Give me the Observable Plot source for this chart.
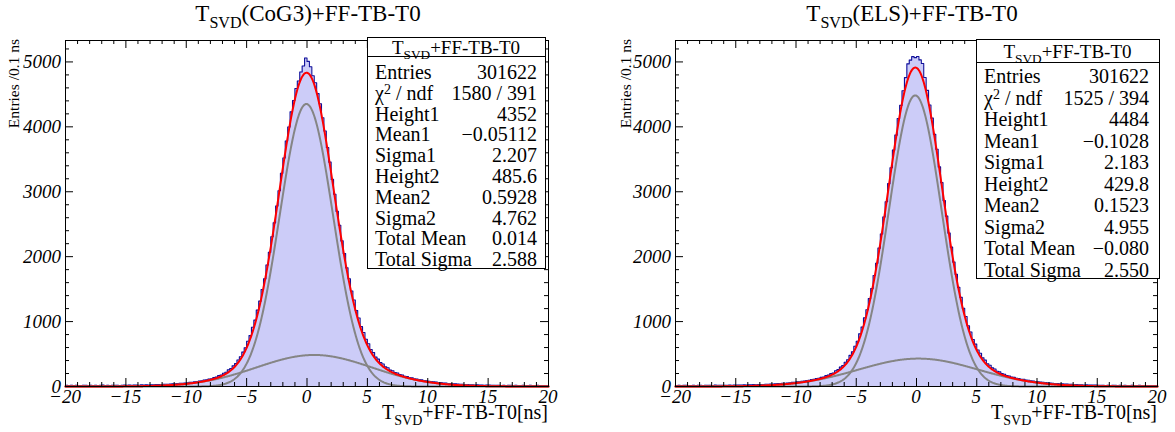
<!DOCTYPE html>
<html><head><meta charset="utf-8">
<script src="https://cdn.jsdelivr.net/npm/d3@7"></script>
<script src="https://cdn.jsdelivr.net/npm/@observablehq/plot@0.6"></script>
<style>
body{margin:0;background:#fff;}
#wrap{position:relative;width:1175px;height:432px;overflow:hidden;}
#wrap svg{position:absolute;top:0;}
</style></head><body><div id="wrap"></div>
<script>
// ---------------- data ----------------
const binStart = -20, binWidth = 0.2;   // bins of the histogram (ns)
const countsCoG3 = [
17,14,19,15,18,16,13,20,17,15,18,16,19,14,17,21,16,18,15,19,17,20,16,18,21,
19,22,18,23,21,20,25,22,26,24,
27,25,29,31,28,33,35,34,39,41,
42,44,49,50,55,57,63,66,72,76,
85,88,101,103,116,120,136,145,168,176,
205,219,256,277,318,352,409,458,530,596,
698,784,912,1022,1176,1315,1494,1661,1872,2068,
2306,2521,2781,3015,3285,3519,3782,3998,4231,4404,
4590,4706,4845,4938,5060,5008,4925,4786,4679,4512,
4356,4139,3935,3681,3456,3190,2961,2698,2484,2243,
2047,1828,1659,1471,1332,1169,1055,922,831,727,
659,571,522,453,422,369,347,303,289,253,
243,214,208,184,178,159,154,137,134,119,
116,106,102,93,89,80,78,71,68,61,
59,53,52,47,45,40,41,36,35,33,
30,31,27,28,24,25,22,23,20,22,
21,18,20,17,19,16,18,15,19,17,14,18,16,15,17,13,16,18,14,15,17,13,16,14,15];
const countsELS = [
15,18,14,17,19,16,15,18,16,20,17,15,19,17,18,16,21,17,19,18,20,17,21,19,22,
21,23,22,25,24,27,26,29,28,31,
31,30,34,35,36,39,40,44,45,49,
50,55,57,63,64,71,74,81,84,92,
95,108,110,123,126,141,147,167,176,198,
209,242,260,299,323,373,412,479,534,619,
696,811,915,1057,1183,1353,1508,1711,1898,2131,
2350,2611,2847,3125,3370,3642,3872,4128,4330,4555,
4758,4970,5028,5081,5066,5084,5031,4975,4760,4561,
4337,4134,3884,3655,3383,3140,2864,2624,2363,2147,
1916,1728,1527,1373,1205,1079,936,840,724,653,
562,513,441,406,351,328,287,270,236,225,
198,189,169,162,144,141,127,124,111,109,
98,96,87,85,76,74,67,66,59,58,
52,51,46,45,40,40,36,37,32,33,
29,30,26,27,24,25,22,23,21,22,
20,17,19,16,18,15,19,17,16,18,15,17,14,16,18,15,14,17,15,13,16,14,15,13,14];

// fit parameters: Height1, Mean1, Sigma1, Height2, Mean2, Sigma2
const fitCoG3 = [4352, -0.05112, 2.207, 485.6, 0.5928, 4.762];
const fitELS  = [4484, -0.1028, 2.183, 429.8, 0.1523, 4.955];

const statHeader = "+FF-TB-T0";
const statLabels = ["Entries","χ2 / ndf","Height1","Mean1","Sigma1","Height2","Mean2","Sigma2","Total Mean","Total Sigma"];
const statsCoG3 = ["301622","1580 / 391","4352","\u22120.05112","2.207","485.6","0.5928","4.762","0.014","2.588"];
const statsELS  = ["301622","1525 / 394","4484","\u22120.1028","2.183","429.8","0.1523","4.955","\u22120.080","2.550"];

const titleTags = ["(CoG3)+FF-TB-T0", "(ELS)+FF-TB-T0"];
const xLabelTail = "+FF-TB-T0[ns]";
const yLabel = "Entries /0.1 ns";

const xMajorTicks = [-20,-15,-10,-5,0,5,10,15,20];
const xMinorTicks = [-19,-18,-17,-16,-14,-13,-12,-11,-9,-8,-7,-6,-4,-3,-2,-1,1,2,3,4,6,7,8,9,11,12,13,14,16,17,18,19];
const yMajorTicks = [0,1000,2000,3000,4000,5000];
const yMinorTicks = [200,400,600,800,1200,1400,1600,1800,2200,2400,2600,2800,3200,3400,3600,3800,4200,4400,4600,4800,5200];
const yMax = 5330;

// ---------------- drawing ----------------
const SERIF = "'Liberation Serif','Times New Roman',serif";
const H = 432, MT = 40, MB = 46;

function stepPoints(counts){
  const pts = [];
  counts.forEach((c,i)=>{ const x1 = binStart + i*binWidth; pts.push({x:x1,y:c},{x:x1+binWidth,y:c}); });
  return pts;
}
function gauss(h,m,s){ return x => h*Math.exp(-((x-m)**2)/(2*s*s)); }
const fitGrid = d3.range(0, 801).map(i => -20 + i*0.05);
const fmtX = d => d < 0 ? "\u2212" + (-d) : String(d);

function richText(g, x, y, parts, size, anchor, italic){
  const t = g.append("text").attr("x", x).attr("y", y)
    .style("font-family", SERIF).style("font-size", size + "px").attr("text-anchor", anchor).attr("fill","black");
  if (italic) t.style("font-style", "italic");
  let shift = 0;
  parts.forEach(([s, kind]) => {
    const sp = t.append("tspan").text(s);
    let target = 0;
    if (kind === "sub") { target = 0.3*size; sp.style("font-size", (0.7*size) + "px"); }
    if (kind === "sup") { target = -0.3*size; sp.style("font-size", (0.7*size) + "px"); }
    if (target !== shift) { sp.attr("dy", target - shift); shift = target; }
  });
  return t;
}

const panels = [
  {left:0, width:587, mL:65, mR:39, counts:countsCoG3, fit:fitCoG3, stats:statsCoG3, tag:titleTags[0], titleX:308, yLabX:19,
   box:{x:367, y:37, w:178, h:231, div:56, row0:72, step:20.8, lx:375, vx:537}},
  {left:587, width:588, mL:88, mR:18, counts:countsELS, fit:fitELS, stats:statsELS, tag:titleTags[1], titleX:325, yLabX:44,
   box:{x:389, y:39, w:183, h:239, div:62, row0:76, step:21.5, lx:397, vx:562}}
];

const wrap = document.getElementById("wrap");
panels.forEach((p, k) => {
  const fw = p.width - p.mL - p.mR, fh = H - MT - MB;
  const [h1,m1,s1,h2,m2,s2] = p.fit;
  const g1 = gauss(h1,m1,s1), g2 = gauss(h2,m2,s2);
  const g1pts = fitGrid.map(x => ({x, y:g1(x)}));
  const g2pts = fitGrid.map(x => ({x, y:g2(x)}));
  const fpts  = fitGrid.map(x => ({x, y:g1(x)+g2(x)}));
  const steps = stepPoints(p.counts);
  const chart = Plot.plot({
    width: p.width, height: H, marginLeft: p.mL, marginRight: p.mR, marginTop: MT, marginBottom: MB,
    style: {background: "white", overflow: "visible"},
    x: {domain: [-20, 20], axis: null},
    y: {domain: [0, yMax], axis: null},
    marks: [
      Plot.areaY(steps, {x:"x", y1:0, y2:"y", fill:"#ccccf8"}),
      Plot.line(steps, {x:"x", y:"y", stroke:"#10109a", strokeWidth:1.1}),
      Plot.line(g1pts, {x:"x", y:"y", stroke:"#858585", strokeWidth:2}),
      Plot.line(g2pts, {x:"x", y:"y", stroke:"#858585", strokeWidth:2}),
      Plot.line(fpts,  {x:"x", y:"y", stroke:"#ff0000", strokeWidth:2}),
      Plot.frame({stroke:"black", strokeWidth:1}),
      // ROOT-style inward ticks on all four sides
      Plot.tickX(xMajorTicks, {x:d=>d, insetTop: fh-8, stroke:"black"}),
      Plot.tickX(xMinorTicks, {x:d=>d, insetTop: fh-4, stroke:"black"}),
      Plot.tickX(xMajorTicks, {x:d=>d, insetBottom: fh-8, stroke:"black"}),
      Plot.tickX(xMinorTicks, {x:d=>d, insetBottom: fh-4, stroke:"black"}),
      Plot.tickY(yMajorTicks, {y:d=>d, insetRight: fw-8, stroke:"black"}),
      Plot.tickY(yMinorTicks, {y:d=>d, insetRight: fw-4, stroke:"black"}),
      Plot.tickY(yMajorTicks, {y:d=>d, insetLeft: fw-8, stroke:"black"}),
      Plot.tickY(yMinorTicks, {y:d=>d, insetLeft: fw-4, stroke:"black"})
    ]
  });
  chart.style.left = p.left + "px";
  wrap.appendChild(chart);
  const xs = chart.scale("x"), ys = chart.scale("y");
  const svg = d3.select(chart);
  const g = svg.append("g");
  // tick labels placed with the plot's own scales
  xMajorTicks.forEach(v => richText(g, xs.apply(v), H - MB + 17, [[fmtX(v)]], 19, "middle", true));
  yMajorTicks.forEach(v => richText(g, p.mL - 4, ys.apply(v) + 6.5, [[String(v)]], 19, "end", true));
  // y axis title (rotated)
  richText(g, 0, 0, [[yLabel]], 15.5, "end").attr("transform", `translate(${p.yLabX},${MT - 1}) rotate(-90)`);
  // title
  richText(g, p.titleX, 21, [["T"],["SVD","sub"],[p.tag]], 23, "middle");
  // x axis title
  richText(g, p.width - p.mR, 419, [["T"],["SVD","sub"],[xLabelTail]], 20, "end");
  // stats box
  const b = p.box;
  g.append("rect").attr("x", b.x+0.5).attr("y", b.y+0.5).attr("width", b.w).attr("height", b.h)
    .attr("fill","white").attr("stroke","black").attr("stroke-width",1);
  g.append("line").attr("x1", b.x+0.5).attr("x2", b.x+b.w+0.5).attr("y1", b.div+0.5).attr("y2", b.div+0.5)
    .attr("stroke","black").attr("stroke-width",1);
  richText(g, b.x + b.w/2, (b.y + b.div)/2 + 7, [["T"],["SVD","sub"],[statHeader]], 19, "middle");
  statLabels.forEach((lab, i) => {
    const y = b.row0 + i*b.step + 7;
    if (lab.startsWith("χ2")) richText(g, b.lx, y, [["χ"],["2","sup"],[" / ndf"]], 20, "start");
    else richText(g, b.lx, y, [[lab]], 20, "start");
    richText(g, b.vx, y, [[p.stats[i]]], 20, "end");
  });
});
</script></body></html>
